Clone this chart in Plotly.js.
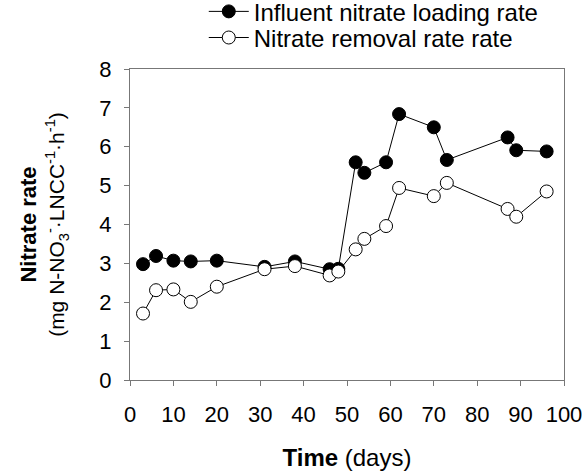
<!DOCTYPE html>
<html>
<head>
<meta charset="utf-8">
<script src="https://cdn.plot.ly/plotly-3.0.1.min.js"></script>
<style>html,body{margin:0;padding:0;background:#fff;}#chart{width:588px;height:473px;}</style>
</head>
<body>
<div id="chart"></div>
<script>
const days = [3, 6, 10, 14, 20, 31, 38, 46, 48, 52, 54, 59, 62, 70, 73, 87, 89, 96];
const influentLoading = [2.98, 3.19, 3.07, 3.05, 3.07, 2.91, 3.05, 2.85, 2.86, 5.60, 5.33, 5.60, 6.84, 6.50, 5.66, 6.24, 5.91, 5.88];
const removalRate = [1.71, 2.31, 2.33, 2.01, 2.40, 2.85, 2.93, 2.69, 2.79, 3.36, 3.63, 3.96, 4.94, 4.73, 5.07, 4.40, 4.20, 4.85];
const seriesNames = ["Influent nitrate loading rate", "Nitrate removal rate rate"];
const xTicks = [0, 10, 20, 30, 40, 50, 60, 70, 80, 90, 100];
const yTicks = [0, 1, 2, 3, 4, 5, 6, 7, 8];

const font = "Liberation Sans, Arial, Helvetica, sans-serif";
const traces = [
  {x: days, y: influentLoading, name: seriesNames[0], type: "scatter", mode: "lines+markers",
   legend: "legend",
   line: {color: "#000", width: 1},
   marker: {symbol: "circle", size: 13, color: "#000", line: {color: "#000", width: 1}}},
  {x: days, y: removalRate, name: seriesNames[1], type: "scatter", mode: "lines+markers",
   legend: "legend2",
   line: {color: "#000", width: 1},
   marker: {symbol: "circle", size: 13, color: "#fff", line: {color: "#000", width: 1}}}
];
const axisCommon = {
  showgrid: false, zeroline: false, showline: true, linecolor: "#777", linewidth: 1,
  mirror: true, ticks: "outside", ticklen: 5, tickcolor: "#777", tickwidth: 1,
  tickfont: {family: font, size: 22, color: "#000"}
};
const legendCommon = {
  x: 0.17, xanchor: "left", yanchor: "middle", bgcolor: "rgba(0,0,0,0)",
  itemwidth: 40, font: {family: font, size: 24, color: "#000"}
};
const layout = {
  width: 588, height: 473,
  margin: {l: 130, r: 24, t: 69, b: 93, autoexpand: false},
  paper_bgcolor: "#fff", plot_bgcolor: "#fff",
  font: {family: font, color: "#000"},
  showlegend: true,
  legend: Object.assign({}, legendCommon, {y: 1.184}),
  legend2: Object.assign({}, legendCommon, {y: 1.100}),
  xaxis: Object.assign({}, axisCommon, {
    range: [0, 100], tickvals: xTicks, ticktext: xTicks.map(String), ticklabelstandoff: 10,
    title: {text: "<b>Time</b> (days)", font: {family: font, size: 24, color: "#000"}, standoff: 22}
  }),
  yaxis: Object.assign({}, axisCommon, {
    range: [0, 8], tickvals: yTicks, ticktext: yTicks.map(String), ticklabelstandoff: 8,
    title: {text: "<b>Nitrate rate</b><br><span style=\"font-size:21px\">(mg N-NO<sub>3</sub><sup>-</sup>·LNCC<sup>-1</sup>·h<sup>-1</sup>)</span>",
            font: {family: font, size: 22, color: "#000"}, standoff: 28}
  })
};
Plotly.newPlot("chart", traces, layout, {displayModeBar: false, staticPlot: true});
</script>
</body>
</html>
